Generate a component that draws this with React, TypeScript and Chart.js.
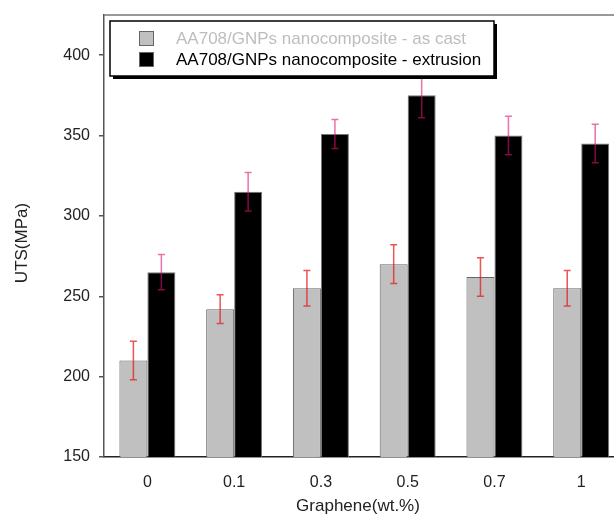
import React, { useEffect, useRef } from 'react';
import { Chart, registerables } from 'chart.js';
Chart.register(...registerables);

const categories = ['0', '0.1', '0.3', '0.5', '0.7', '1'];
const asCast = [210, 242, 255, 270, 262, 255];
const asCastErr = [12, 9, 11, 12, 12, 11];
const extrusion = [265, 315, 351, 375, 350, 345];
const extrusionErr = [11, 12, 9, 14, 12, 12];
const legendLabels = ['AA708/GNPs nanocomposite - as cast', 'AA708/GNPs nanocomposite - extrusion'];
const xTitle = 'Graphene(wt.%)';
const yTitle = 'UTS(MPa)';
const yMin = 150;
const yMax = 425;
const yStep = 50;

const FONT = '"Liberation Sans", Arial, sans-serif';

const overlayPlugin = {
  id: 'overlay',
  afterDatasetsDraw(chart: any) {
    const ctx = chart.ctx;
    const errs = [asCastErr, extrusionErr];
    const colors = ['rgba(225,30,30,0.75)', 'rgba(220,20,110,0.6)'];
    const ys = chart.scales.y;
    chart.data.datasets.forEach((ds: any, di: number) => {
      const meta = chart.getDatasetMeta(di);
      meta.data.forEach((bar: any, i: number) => {
        const v = ds.data[i];
        const e = errs[di][i];
        const x = bar.x;
        const yT = ys.getPixelForValue(v + e);
        const yB = ys.getPixelForValue(v - e);
        ctx.save();
        ctx.strokeStyle = colors[di];
        ctx.lineWidth = 1.5;
        ctx.beginPath();
        ctx.moveTo(x, yT);
        ctx.lineTo(x, yB);
        ctx.moveTo(x - 3.5, yT);
        ctx.lineTo(x + 3.5, yT);
        ctx.moveTo(x - 3.5, yB);
        ctx.lineTo(x + 3.5, yB);
        ctx.stroke();
        ctx.restore();
      });
    });
  },
  afterDraw(chart: any) {
    const ctx = chart.ctx;
    const { left, right, top, bottom } = chart.chartArea;
    ctx.save();
    // frame top and right
    ctx.strokeStyle = '#777';
    ctx.lineWidth = 1.5;
    ctx.beginPath();
    ctx.moveTo(left, top);
    ctx.lineTo(right, top);
    ctx.lineTo(right, bottom);
    ctx.stroke();

    // legend
    const lx = left + 6;
    const ly = top + 6;
    const lw = 384;
    const lh = 55;
    ctx.fillStyle = '#000';
    ctx.fillRect(lx + 3, ly + 3, lw, lh);
    ctx.fillStyle = '#fff';
    ctx.fillRect(lx, ly, lw, lh);
    ctx.strokeStyle = '#000';
    ctx.lineWidth = 1.5;
    ctx.strokeRect(lx, ly, lw, lh);

    const fills = ['#c0c0c0', '#000000'];
    const textColors = ['#bdbdbd', '#000000'];
    ctx.font = `17px ${FONT}`;
    ctx.textBaseline = 'middle';
    ctx.textAlign = 'left';
    for (let i = 0; i < 2; i++) {
      const sy = ly + 10 + i * 21;
      ctx.fillStyle = fills[i];
      ctx.fillRect(lx + 29, sy, 15, 15);
      ctx.strokeStyle = '#666';
      ctx.lineWidth = 1;
      ctx.strokeRect(lx + 29.5, sy + 0.5, 14, 14);
      ctx.fillStyle = textColors[i];
      ctx.fillText(legendLabels[i], lx + 66, sy + 8);
    }

    // axis titles
    ctx.fillStyle = '#222';
    ctx.font = `17px ${FONT}`;
    ctx.textAlign = 'center';
    ctx.textBaseline = 'middle';
    ctx.fillText(xTitle, 358, 506);
    ctx.save();
    ctx.translate(22, 243);
    ctx.rotate(-Math.PI / 2);
    ctx.fillText(yTitle, 0, 0);
    ctx.restore();
    ctx.restore();
  },
};

export default function App() {
  const ref = useRef<HTMLCanvasElement>(null);
  useEffect(() => {
    if (!ref.current) return;
    const chart = new Chart(ref.current, {
      type: 'bar',
      data: {
        labels: categories,
        datasets: [
          {
            label: legendLabels[0],
            data: asCast,
            backgroundColor: '#c0c0c0',
            borderColor: '#666',
            borderWidth: 1,
          },
          {
            label: legendLabels[1],
            data: extrusion,
            backgroundColor: '#000000',
            borderColor: '#777',
            borderWidth: 1,
          },
        ],
      },
      options: {
        responsive: false,
        animation: false,
        layout: { padding: { top: 15, right: 15.4, left: 0, bottom: 0 } },
        plugins: {
          legend: { display: false },
          tooltip: { enabled: false },
          title: { display: false },
        },
        datasets: { bar: { categoryPercentage: 0.645, barPercentage: 1 } },
        scales: {
          x: {
            grid: { display: false, drawTicks: false },
            border: { display: true, color: '#222', width: 1.5 },
            ticks: { font: { family: FONT, size: 16 }, color: '#222', padding: 16 },
            afterFit: (s: any) => {
              s.height = 59;
              s.paddingLeft = 0;
              s.paddingRight = 0;
              s.paddingTop = 0;
              s.paddingBottom = 0;
            },
          },
          y: {
            min: yMin,
            max: yMax,
            ticks: {
              stepSize: yStep,
              includeBounds: false,
              font: { family: FONT, size: 16 },
              color: '#222',
              padding: 9,
            },
            grid: { drawOnChartArea: false, drawTicks: true, tickLength: 5, color: '#555', lineWidth: 1.5 },
            border: { display: true, color: '#555', width: 1.5 },
            afterFit: (s: any) => {
              s.width = 104;
              s.paddingTop = 0;
              s.paddingBottom = 0;
              s.paddingLeft = 0;
              s.paddingRight = 0;
            },
          },
        },
      },
      plugins: [overlayPlugin],
    });
    return () => chart.destroy();
  }, []);
  return (
    <div style={{ position: 'absolute', left: 0, top: 0, width: 614, height: 516, overflow: 'hidden', background: '#fff' }}>
      <canvas ref={ref} width={640} height={516} style={{ display: 'block' }} />
    </div>
  );
}
